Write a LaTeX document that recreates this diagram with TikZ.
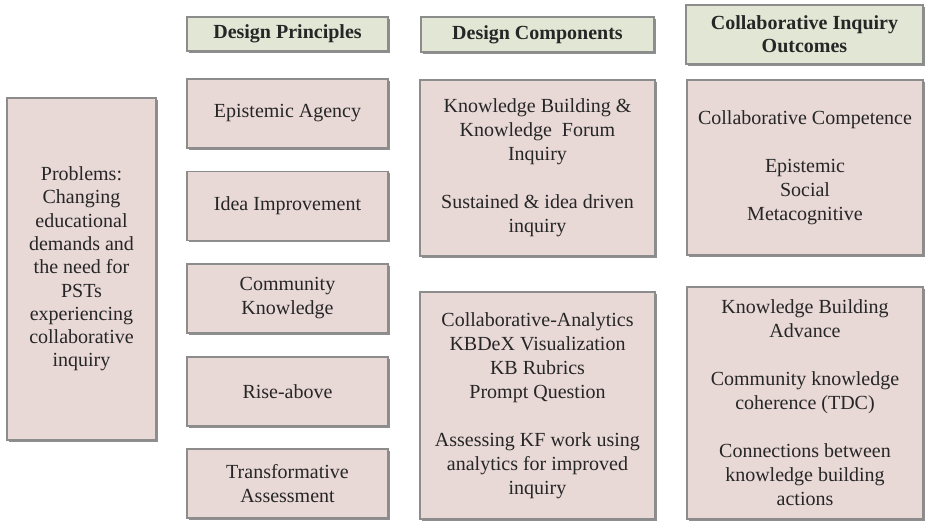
\documentclass[tikz,border=0pt]{standalone}
\usepackage{fontspec}
\setmainfont{Liberation Serif}
\usetikzlibrary{shadows}
\definecolor{pinkfill}{HTML}{E8D8D6}
\definecolor{headfill}{HTML}{E1E6D5}
\definecolor{edgegray}{HTML}{8C8C8C}
\begin{document}
\begin{tikzpicture}[x=1pt,y=-1pt,
  basebox/.style={draw=edgegray,line width=1.1pt,inner sep=0pt,align=center,
    text=black!85,
    drop shadow={shadow xshift=1.8pt,shadow yshift=-1.8pt,fill=black!55,opacity=0.8}},
  pbox/.style={basebox,fill=pinkfill,font=\fontsize{20}{24}\selectfont},
  hbox/.style={basebox,fill=headfill,font=\bfseries\fontsize{20}{23}\selectfont}]
\useasboundingbox[fill=white] (0,0) rectangle (927,521);
% headers
\node[hbox,minimum width=201pt,minimum height=34pt] (hdp) at (287.5,34) {Design Principles};
\node[hbox,minimum width=233pt,minimum height=35pt] (hdc) at (537.5,34.5) {Design Components};
\node[hbox,minimum width=237pt,minimum height=59pt] (hco) at (804.5,34.5) {Collaborative Inquiry\\Outcomes};
% problems
\node[pbox,font=\fontsize{20}{23.3}\selectfont,minimum width=149pt,minimum height=342pt] (prob) at (81.5,269)
  {Problems:\\Changing\\educational\\demands and\\the need for\\PSTs\\experiencing\\collaborative\\inquiry};
% principles
\node[pbox,minimum width=201pt,minimum height=69pt] (ea) at (287.5,113.5) {Epistemic Agency};
\node[pbox,minimum width=201pt,minimum height=69pt] (ii) at (287.5,206) {Idea Improvement};
\node[pbox,minimum width=201pt,minimum height=69pt] (ck) at (287.5,298.5) {Community\\Knowledge};
\node[pbox,minimum width=201pt,minimum height=69pt] (ra) at (287.5,391.5) {Rise-above};
\node[pbox,minimum width=201pt,minimum height=69pt] (ta) at (287.5,483.5) {Transformative\\Assessment};
% components
\node[pbox,minimum width=235pt,minimum height=176pt] (c1) at (537.5,168)
  {Knowledge Building \&\\Knowledge\ \ Forum\\Inquiry\\[24pt]Sustained \& idea driven\\inquiry};
\node[pbox,minimum width=235pt,minimum height=227pt] (c2) at (537.5,405.5)
  {Collaborative-Analytics\\KBDeX Visualization\\KB Rubrics\\Prompt Question\\[24pt]Assessing KF work using\\analytics for improved\\inquiry};
% outcomes
\node[pbox,minimum width=236pt,minimum height=175pt] (o1) at (805,167.5)
  {Collaborative Competence\\[24pt]Epistemic\\Social\\Metacognitive};
\node[pbox,minimum width=236pt,minimum height=232pt] (o2) at (805,403)
  {Knowledge Building\\Advance\\[24pt]Community knowledge\\coherence (TDC)\\[24pt]Connections between\\knowledge building\\actions};
\end{tikzpicture}
\end{document}
